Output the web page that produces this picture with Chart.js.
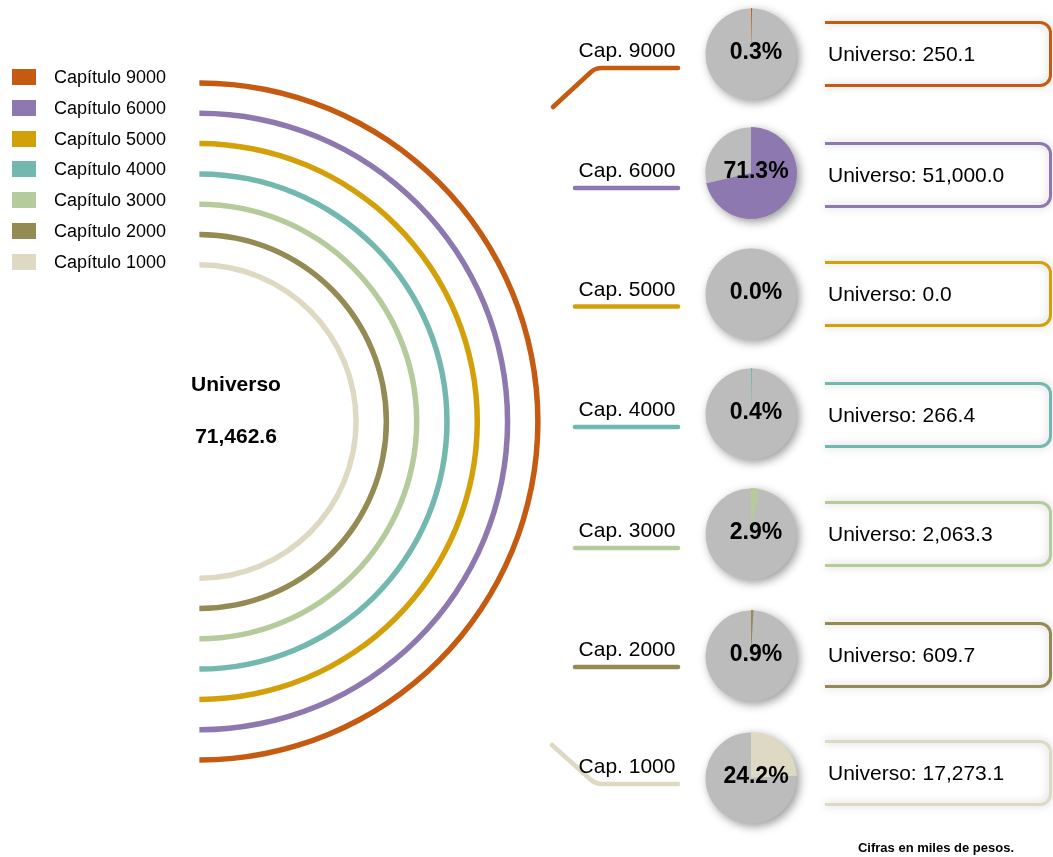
<!DOCTYPE html>
<html><head><meta charset="utf-8">
<script src="https://cdn.jsdelivr.net/npm/chart.js@4.4.1/dist/chart.umd.min.js"></script>
<style>
html,body{margin:0;padding:0;background:#fff;}
body{width:1053px;height:857px;position:relative;overflow:hidden;font-family:"Liberation Sans",Arial,sans-serif;color:#000;}
.abs{position:absolute;}
.leg-sq{position:absolute;width:24px;height:16px;}
.leg-tx{position:absolute;font-size:18px;line-height:20px;white-space:nowrap;}
.cap{position:absolute;font-size:21px;line-height:24px;width:140px;text-align:center;white-space:nowrap;}
.box{position:absolute;box-sizing:border-box;border-style:solid;border-width:3px 3px 3px 0;border-radius:0 12px 12px 0;filter:drop-shadow(0 0 4px rgba(0,0,0,0.22));}
.boxtx{position:absolute;font-size:21px;line-height:24px;white-space:nowrap;}
.pie{position:absolute;filter:drop-shadow(3px 3px 5px rgba(0,0,0,0.4));}
.ctr{position:absolute;font-weight:bold;font-size:21px;line-height:24px;width:160px;text-align:center;}
</style></head><body>
<canvas id="arcs" class="abs" width="740" height="843" style="left:0;top:0"></canvas>
<svg id="conn" class="abs" style="left:0;top:0" width="1053" height="857"></svg>
<div id="overlay"></div>
<script>
// ---- data ----
const categories = ['Capítulo 9000','Capítulo 6000','Capítulo 5000','Capítulo 4000','Capítulo 3000','Capítulo 2000','Capítulo 1000'];
const shortLabels = ['Cap. 9000','Cap. 6000','Cap. 5000','Cap. 4000','Cap. 3000','Cap. 2000','Cap. 1000'];
const values = [250.1, 51000.0, 0.0, 266.4, 2063.3, 609.7, 17273.1];
const percentLabels = ['0.3%','71.3%','0.0%','0.4%','2.9%','0.9%','24.2%'];
const totalLabel = 'Universo';
const footNote = 'Cifras en miles de pesos.';
const colors = ['#C55A11','#8E78B0','#D4A00A','#72B8AE','#B5CB9C','#948A54','#DDD9C3'];
const restColor = '#BCBCBC';

// ---- helpers ----
function fmt(v){ const s=v.toFixed(1); const p=s.split('.'); return p[0].replace(/\B(?=(\d{3})+(?!\d))/g, ',')+'.'+p[1]; }
const total = values.reduce((a,b)=>a+b,0);
const ov = document.getElementById('overlay');
function el(tag, cls, style, text){ const e=document.createElement(tag); if(cls) e.className=cls; Object.assign(e.style, style||{}); if(text!==undefined) e.textContent=text; ov.appendChild(e); return e; }

// ---- concentric half rings (doughnut) ----
const ringW = 5.5, gapW = 24.8, outerR = 341.25;
const arcSets = [];
categories.forEach((c,i)=>{
  if(i>0) arcSets.push({label:'', data:[1], backgroundColor:'rgba(0,0,0,0)', borderWidth:0, weight:gapW});
  arcSets.push({label:c, data:[1], backgroundColor:colors[i], borderWidth:0, weight:ringW});
});
const innerR = outerR - (categories.length*ringW + (categories.length-1)*gapW);
new Chart(document.getElementById('arcs'), {
  type:'doughnut',
  data:{labels:['Universo'], datasets:arcSets},
  options:{
    responsive:false, animation:false, devicePixelRatio:1, events:[],
    rotation:0, circumference:180, radius:outerR, cutout:(innerR/outerR*100)+'%',
    layout:{padding:0},
    plugins:{legend:{display:false}, tooltip:{enabled:false}, title:{display:false}}
  }
});

// ---- legend ----
categories.forEach((c,i)=>{
  const ly = 77 + 30.8*i;
  el('div','leg-sq',{left:'12px', top:(ly-8)+'px', background:colors[i]});
  el('div','leg-tx',{left:'54px', top:(ly-10)+'px'}, c);
});

// ---- centre text ----
el('div','ctr',{left:'156px', top:'372px'}, totalLabel);
el('div','ctr',{left:'156px', top:'424px'}, fmt(total));

// ---- rows: labels, connectors, pies, boxes ----
const pieY = [54, 172.5, 294, 414, 534, 655.5, 777.5];
const boxY = [54, 175, 294, 414.5, 534, 654.5, 773];
const lineY = [68, 188, 306.5, 427, 548, 667, 784];
const pieX = 751;
const svg = document.getElementById('conn');
let paths = '';
categories.forEach((c,i)=>{
  let d;
  const y = lineY[i];
  if(i===0) d = `M553,107 L591,72 Q595,${y} 602,${y} L678,${y}`;
  else if(i===categories.length-1) d = `M552,745 L590,779 Q595,${y} 603,${y} L678,${y}`;
  else d = `M575,${y} L678,${y}`;
  paths += `<path d="${d}" fill="none" stroke="${colors[i]}" stroke-width="4.6" stroke-linecap="round" stroke-linejoin="round"/>`;
  el('div','cap',{left:(627-70)+'px', top:(y-18-12)+'px'}, shortLabels[i]);

  // pie
  const cv = document.createElement('canvas');
  cv.width=110; cv.height=110; cv.className='pie';
  cv.style.left=(pieX-55)+'px'; cv.style.top=(pieY[i]-55)+'px';
  ov.appendChild(cv);
  const lbl = percentLabels[i];
  new Chart(cv, {
    type:'pie',
    data:{labels:[categories[i],'Resto'], datasets:[{data:[values[i], total-values[i]], backgroundColor:[colors[i], restColor],
      borderColor:[colors[i], restColor], borderWidth:[values[i]>0?1:0, 0]}]},
    options:{responsive:false, animation:false, devicePixelRatio:1, events:[], radius:45.5,
      plugins:{legend:{display:false}, tooltip:{enabled:false}}},
    plugins:[{id:'pct', afterDraw(ch){ const ctx=ch.ctx; ctx.save(); ctx.font='bold 23px "Liberation Sans", Arial, sans-serif'; ctx.fillStyle='#000'; ctx.textAlign='center'; ctx.textBaseline='middle'; ctx.fillText(lbl, 60, 54); ctx.restore(); }}]
  });

  // box
  el('div','box',{left:'825px', top:(boxY[i]-33)+'px', width:'227px', height:'66px', borderColor:colors[i]});
  el('div','boxtx',{left:'828px', top:(boxY[i]-12)+'px'}, 'Universo: '+fmt(values[i]));
});
svg.innerHTML = paths;

// ---- footnote ----
el('div','',{position:'absolute', left:'820px', top:'840px', width:'232px', textAlign:'center', fontWeight:'bold', fontSize:'13px', lineHeight:'16px'}, footNote);
</script>
</body></html>
